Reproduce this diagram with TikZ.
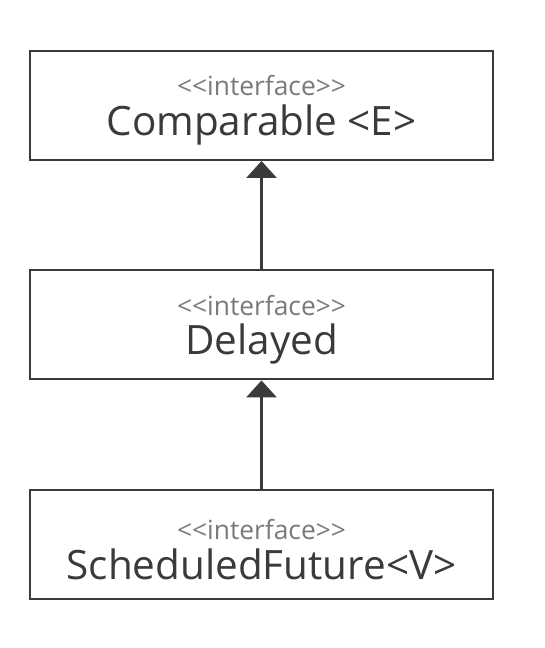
\documentclass[tikz,border=0pt]{standalone}
\usepackage{fontspec}
\setmainfont{Open Sans}
\usepackage{tikz}
\usetikzlibrary{positioning,arrows.meta}

\definecolor{boxline}{HTML}{3A3A3A}
\definecolor{stereo}{HTML}{7A7A7A}

\newcommand{\stereotype}{\rule{0pt}{0.6cm}{\fontsize{15}{15}\selectfont\color{stereo}<{}<interface>{}>}}

\begin{document}
\begin{tikzpicture}[
  node distance=2.17cm,
  iface/.style={draw=boxline,line width=1.1pt,fill=white,
    minimum width=9.26cm,minimum height=2.18cm,
    align=center,inner sep=0pt,text=boxline},
  extends/.style={draw=boxline,line width=1.6pt,
    -{Triangle[width=0.6cm,length=0.34cm,fill=boxline]}}
]

% Rahmen des Bildes
\useasboundingbox (0,0) rectangle (10.88,-12.96);

% die drei Interfaces
\node[iface] (comparable) at (5.23,-2.11)
  {\stereotype\\[0.14cm]
   {\fontsize{23}{23}\selectfont Comparable <E>}};
\node[iface,below=of comparable] (delayed)
  {\stereotype\\[0.14cm]
   {\fontsize{23}{23}\selectfont Delayed}};
\node[iface,below=of delayed] (scheduled)
  {\stereotype\\[0.14cm]
   {\fontsize{23}{23}\selectfont ScheduledFuture<V>}};

% Vererbung
\draw[extends] (delayed) -- (comparable);
\draw[extends] (scheduled) -- (delayed);

\end{tikzpicture}
\end{document}
